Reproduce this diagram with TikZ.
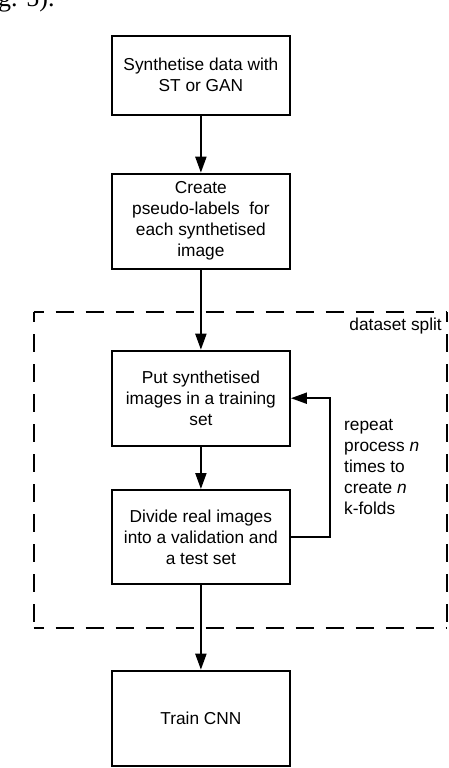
\documentclass[tikz,border=0pt]{standalone}
\usepackage{fontspec}
\setmainfont{Liberation Sans}
\newfontfamily\serifcap{Liberation Serif}
\usetikzlibrary{arrows.meta}
\begin{document}
\begin{tikzpicture}[x=1pt,y=-1pt,
  font=\fontsize{17.3}{21}\selectfont,
  stepbox/.style={draw=black, line width=2pt, minimum width=178pt, align=center, inner sep=0pt},
  flow/.style={line width=2pt, -{Triangle[length=16pt,width=11pt]}},
  splitline/.style={draw=black, line width=2pt, dash pattern=on 18pt off 12pt, dash phase=8pt}]
\useasboundingbox (0,0) rectangle (448,768);
\begin{scope}
\clip (0,0) rectangle (448,768);
\node[anchor=base west, inner sep=0pt, font=\serifcap\fontsize{26}{30}\selectfont] (cap) at (-2,7) {g. 5).};
\coordinate (dtl) at (33.7,312.3);
\coordinate (dtr) at (447,312.3);
\coordinate (dbl) at (33.7,627.7);
\coordinate (dbr) at (447,627.7);
\draw[splitline] (dtl) -- (dtr);
\draw[splitline] (dbl) -- (dbr);
\draw[splitline] (dtl) -- (dbl);
\draw[splitline] (dtr) -- (dbr);
\end{scope}
\node[stepbox, minimum height=79.3pt] (s1) at (200.9,75.3) {Synthetise data with\\ST or GAN};
\node[stepbox, minimum height=95pt] (s2) at (200.9,221.2) {Create\\pseudo-labels\ \ for\\each synthetised\\image};
\node[stepbox, minimum height=95pt] (s3) at (200.9,398.2) {Put synthetised\\images in a training\\set};
\node[stepbox, minimum height=94pt] (s4) at (200.9,537) {Divide real images\\into a validation and\\a test set};
\node[stepbox, minimum height=95pt] (s5) at (200.9,718.2) {Train CNN};
\node[anchor=north east, inner sep=0pt] (lbl) at (442,318) {dataset split};
\node[anchor=west, align=left, inner sep=0pt] (rep) at (344,467) {repeat\\process \textit{n}\\times to\\create \textit{n}\\k-folds};
\coordinate (lp) at (330,0);
\draw[flow] (s1) -- (s2);
\draw[flow] (s2) -- (s3);
\draw[flow] (s3) -- (s4);
\draw[flow] (s4) -- (s5);
\draw[flow] (s4.east) -- (s4.east -| lp) -- (s3.east -| lp) -- (s3.east);
\end{tikzpicture}
\end{document}
